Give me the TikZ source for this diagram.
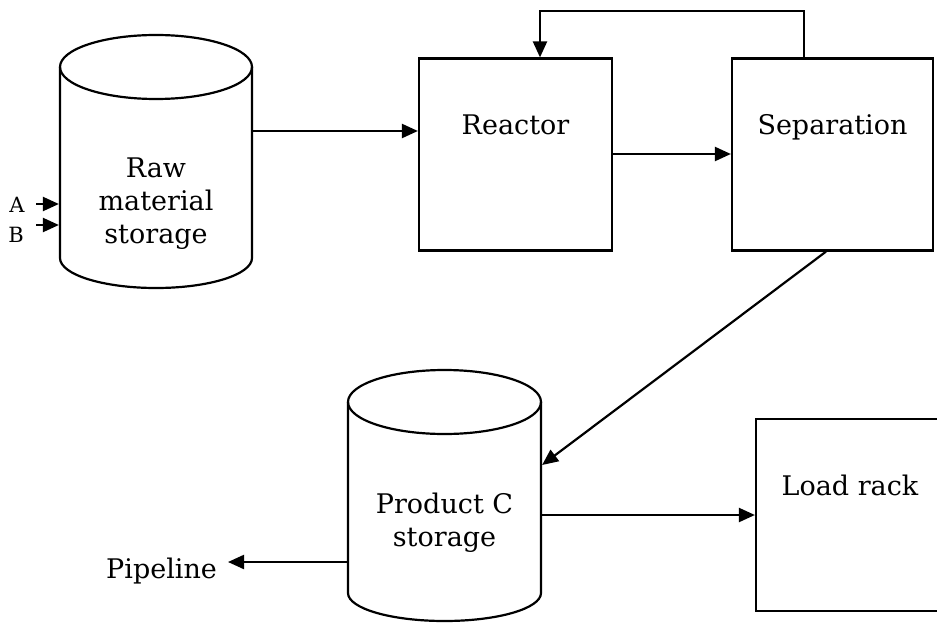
\documentclass[tikz,border=0pt]{standalone}
\usepackage{fontspec}
\setmainfont{DejaVu Serif}
\usetikzlibrary{arrows.meta}
\begin{document}
\begin{tikzpicture}[x=1pt,y=-1pt,
  line width=2.2pt,
  arr/.style={-{Triangle[length=16pt,width=14pt]}},
  boxnode/.style={draw,rectangle,inner sep=0pt},
  area/.style={rectangle,inner sep=0pt},
  lbl/.style={font=\fontsize{27}{33}\selectfont,align=center,inner sep=0pt,anchor=base},
  small/.style={font=\fontsize{21}{24}\selectfont,inner sep=0pt,anchor=base}]
\useasboundingbox (0,0) rectangle (937,623);
% raw material storage cylinder
\node[area,minimum width=192pt,minimum height=253pt] (raw) at (156,161.5) {};
\draw (156,67) ellipse [x radius=96, y radius=32];
\draw (60,67) -- (60,258) arc [start angle=180, end angle=0, x radius=96, y radius=30] -- (252,67);
\node[lbl] (rawtxt) at (156,243) {Raw\\material\\storage};
% product storage cylinder
\node[area,minimum width=193pt,minimum height=251pt] (prod) at (444.5,495.5) {};
\draw (444.5,402) ellipse [x radius=96.5, y radius=32];
\draw (348,402) -- (348,593) arc [start angle=180, end angle=0, x radius=96.5, y radius=28] -- (541,402);
\node[lbl] (prodtxt) at (444.5,546) {Product C\\storage};
% boxes
\node[boxnode,minimum width=193pt,minimum height=192pt] (reactor) at (515.5,154.5) {};
\node[lbl] (reactortxt) at (515.5,135) {Reactor};
\node[boxnode,minimum width=201pt,minimum height=192pt] (sep) at (832.5,154.5) {};
\node[lbl] (septxt) at (832.5,135) {Separation};
\node[boxnode,minimum width=189pt,minimum height=192pt] (load) at (850.5,515) {};
\node[lbl] (loadtxt) at (850,495) {Load rack};
% inputs A, B
\node[small] (A) at (17,212) {A};
\node[small] (B) at (16,242) {B};
\coordinate (ain) at (36,204);
\coordinate (bin) at (36,225);
\draw[arr] (ain) -- (raw.west |- ain);
\draw[arr] (bin) -- (raw.west |- bin);
% main flow
\coordinate (f1) at (0,131);
\draw[arr] (raw.east |- f1) -- (reactor.west |- f1);
\coordinate (f2) at (0,154);
\draw[arr] (reactor.east |- f2) -- (sep.west |- f2);
% recycle loop
\coordinate (loopR) at (804,11);
\coordinate (loopL) at (540,11);
\draw[arr] (sep.north -| loopR) -- (loopR) -- (loopL) -- (reactor.north -| loopL);
% separation to product
\coordinate (dS) at (826,0);
\coordinate (dE) at (0,465);
\draw[arr] (sep.south -| dS) -- (prod.east |- dE);
% product to load rack
\coordinate (f3) at (0,515);
\draw[arr] (prod.east |- f3) -- (load.west |- f3);
% pipeline
\node[lbl,anchor=base east] (pipe) at (218,578) {Pipeline};
\coordinate (f4) at (228,562);
\draw[arr] (prod.west |- f4) -- (f4);
\end{tikzpicture}
\end{document}
